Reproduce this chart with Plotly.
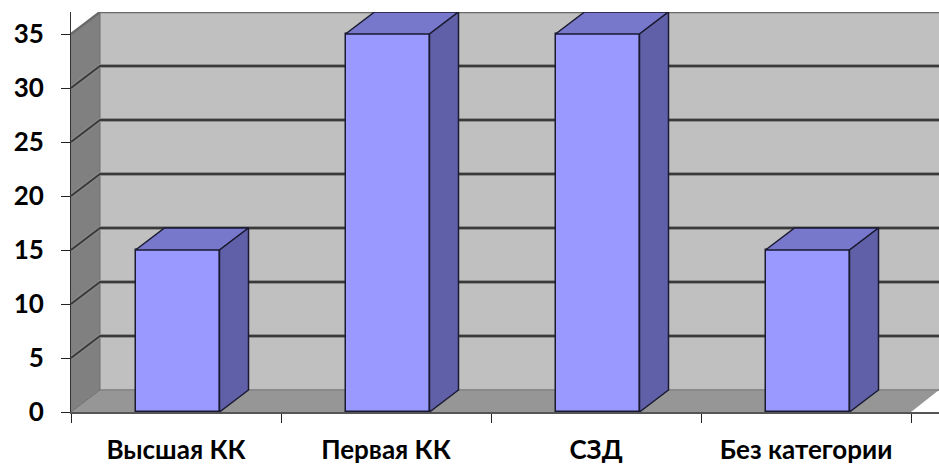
import plotly.graph_objects as go

categories = ["Высшая КК", "Первая КК", "СЗД", "Без категории"]
values = [15, 35, 35, 15]
y_ticks = [0, 5, 10, 15, 20, 25, 30, 35]

DX = 29 / 210      # depth of the 3-D box, in category units
DY = 22 / 10.8     # depth of the 3-D box, in value units
BAR_W = 0.4
BAR_SHIFT = 1.5 / 210
X_MAX = 868 / 210
Y_MAX = 400 / 10.8
N = len(categories)
centers = [i + 0.5 for i in range(N)]
bar_centers = [c + BAR_SHIFT for c in centers]


def poly(pts):
    return "M" + " L".join(f"{x},{y}" for x, y in pts) + " Z"


def open_path(pts):
    return "M" + " L".join(f"{x},{y}" for x, y in pts)


top = y_ticks[-1]
shapes = [
    dict(type="path", path=poly([(DX, DY), (X_MAX, DY), (X_MAX, Y_MAX), (DX, Y_MAX)]),
         fillcolor="#C0C0C0", line=dict(width=0), layer="below"),
    dict(type="path", path=poly([(0, 0), (DX, DY), (DX, top + DY), (0, top)]),
         fillcolor="#808080", line=dict(width=0), layer="below"),
    dict(type="path", path=poly([(0, 0), (N, 0), (X_MAX, DY), (DX, DY)]),
         fillcolor="#969696", line=dict(width=0), layer="below"),
    dict(type="path", path=open_path([(DX, DY), (X_MAX, DY)]),
         line=dict(color="#8A8A8A", width=2), layer="below"),
    dict(type="path", path=open_path([(0, 0), (DX, DY), (DX, top + DY)]),
         line=dict(color="#6E6E6E", width=1), layer="below"),
    dict(type="path", path=open_path([(0, top), (DX, top + DY), (X_MAX, top + DY)]),
         line=dict(color="#6A6A6A", width=2.5), layer="below"),
]
for v in y_ticks[1:-1]:
    grid = open_path([(0, v), (DX, v + DY), (X_MAX, v + DY)])
    shapes.append(dict(type="path", path=grid, line=dict(color="#8C8C8C", width=4), layer="below"))
    shapes.append(dict(type="path", path=grid, line=dict(color="#3A3A3A", width=2), layer="below"))

fig = go.Figure()
fig.add_trace(go.Bar(x=bar_centers, y=values, width=BAR_W, marker=dict(color="#9999FF", line=dict(color="#1A1A30", width=1.5)),
                     hoverinfo="skip"))
for c, v in zip(bar_centers, values):
    l, r = c - BAR_W / 2, c + BAR_W / 2
    fig.add_trace(go.Scatter(x=[l, l + DX, r + DX, r, l], y=[v, v + DY, v + DY, v, v], mode="lines",
                             fill="toself", fillcolor="#7777CC", line=dict(color="#1A1A30", width=1.5),
                             cliponaxis=False, hoverinfo="skip"))
    fig.add_trace(go.Scatter(x=[r, r + DX, r + DX, r, r], y=[0, DY, v + DY, v, 0], mode="lines",
                             fill="toself", fillcolor="#6060A8", line=dict(color="#1A1A30", width=1.5),
                             cliponaxis=False, hoverinfo="skip"))

font = dict(family="Lato, Open Sans, sans-serif", size=26, color="#000000", weight="bold")
fig.update_layout(
    width=939, height=464, autosize=False, showlegend=False, bargap=0,
    margin=dict(l=71, r=0, t=12, b=52, pad=0),
    paper_bgcolor="#FFFFFF", plot_bgcolor="#FFFFFF", font=font, shapes=shapes,
    xaxis=dict(range=[0, X_MAX], automargin=False, tickmode="array", tickvals=centers, ticktext=categories,
               ticks="", ticklen=0, showgrid=False, zeroline=False, showline=True, linecolor="#555555",
               linewidth=2, ticklabelstandoff=14, tickfont=font,
               minor=dict(tickmode="array", tickvals=list(range(N + 1)), ticks="outside", ticklen=9,
                          tickwidth=1, tickcolor="#222222", showgrid=False)),
    yaxis=dict(range=[0, Y_MAX], automargin=False, tickmode="array", tickvals=y_ticks, ticks="outside", ticklen=9,
               tickwidth=1, tickcolor="#222222", showgrid=False, zeroline=False, showline=True,
               linecolor="#333333", linewidth=1, ticklabelstandoff=12, tickfont=font),
)
fig.write_html("out.html", config={"displayModeBar": False}, post_script="document.body.style.margin='0';")
